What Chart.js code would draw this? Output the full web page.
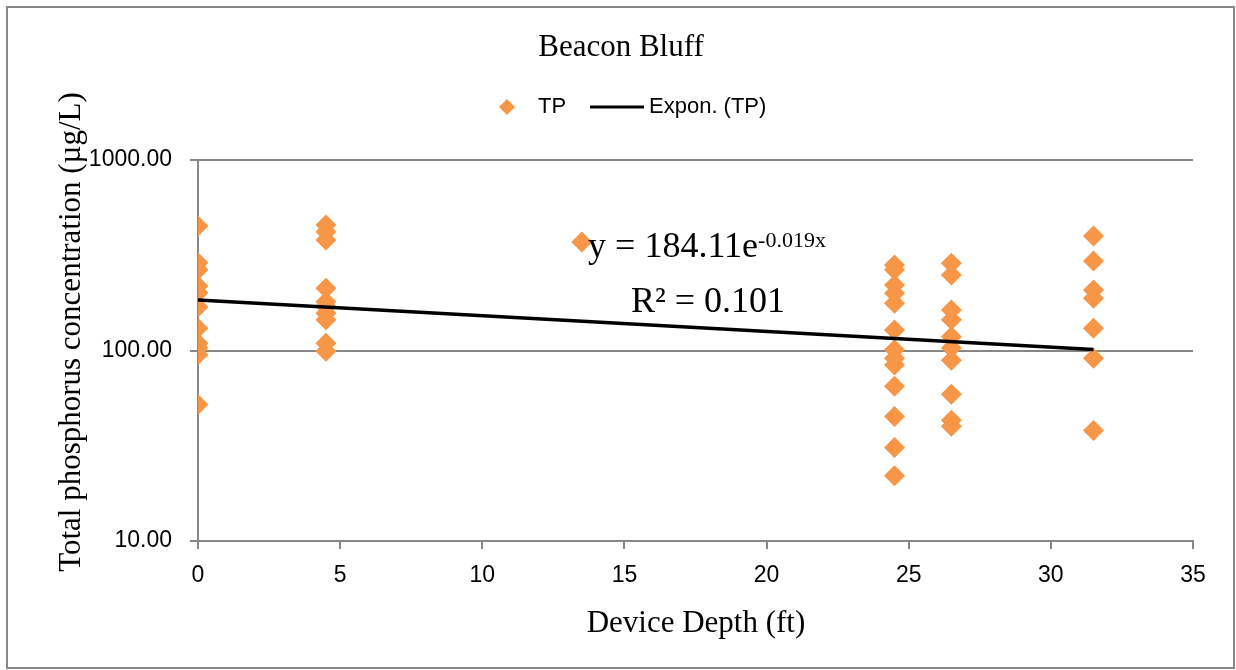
<!DOCTYPE html>
<html>
<head>
<meta charset="utf-8">
<script src="https://cdn.jsdelivr.net/npm/chart.js@4/dist/chart.umd.min.js"></script>
<style>
    html, body { margin: 0; padding: 0; background: #fff; }
    canvas { display: block; }
</style>
</head>
<body>
<canvas id="tpChart" width="1236" height="670"></canvas>
<script>
// Beacon Bluff - TP vs device depth

const chartTitle = 'Beacon Bluff';
const xTitle = 'Device Depth (ft)';
const yTitle = 'Total phosphorus concentration (\u00b5g/L)';

const depths = [0, 4.5, 13.5, 24.5, 26.5, 31.5];
const tpAt0 = [450, 289, 265, 218, 201, 169, 131, 109, 103, 95, 52];
const tpAt4_5 = [456, 420, 380, 212, 180, 170, 157, 145, 109, 99];
const tpAt13_5 = [371];
const tpAt24_5 = [281, 265, 221, 200, 177, 128, 101, 91, 84, 65, 45, 31, 22];
const tpAt26_5 = [287, 249, 163, 145, 118, 103, 89, 59, 43, 40];
const tpAt31_5 = [399, 295, 208, 188, 131, 91, 38];

// trendline end points (Excel exponential fit)
const trendX = [0, 31.5];
const trendY = [184.11, 101.2];
const trendEq = { main: 'y = 184.11e', sup: '-0.019x', r2: 'R\u00b2 = 0.101' };

const xTicks = [0, 5, 10, 15, 20, 25, 30, 35];
const yTicks = [10, 100, 1000];

const ORANGE = '#F79646';
const GRID = '#878787';
const SERIF = '"Liberation Serif", "Times New Roman", serif';
const SANS = '"Liberation Sans", Arial, sans-serif';

const tpGroups = [tpAt0, tpAt4_5, tpAt13_5, tpAt24_5, tpAt26_5, tpAt31_5];
const tpPoints = [];
tpGroups.forEach((vals, i) => {
    vals.forEach(v => tpPoints.push({ x: depths[i], y: v }));
});
const trendPoints = trendX.map((x, i) => ({ x: x, y: trendY[i] }));

// titles, legend, equation and frame
const decorPlugin = {
    id: 'decor',
    afterDraw(chart) {
        const ctx = chart.ctx;
        ctx.save();

        // outer frame
        ctx.strokeStyle = GRID;
        ctx.lineWidth = 2;
        ctx.strokeRect(7, 7, 1227, 661);

        ctx.fillStyle = '#000';
        ctx.textBaseline = 'alphabetic';

        // title
        ctx.font = '31px ' + SERIF;
        ctx.textAlign = 'center';
        ctx.fillText(chartTitle, 621, 56);

        // x title
        ctx.fillText(xTitle, 696, 632);

        // y title
        ctx.save();
        ctx.translate(80, 332);
        ctx.rotate(-Math.PI / 2);
        ctx.fillText(yTitle, 0, 0);
        ctx.restore();

        // legend
        const ds = chart.data.datasets;
        ctx.fillStyle = ORANGE;
        ctx.beginPath();
        ctx.moveTo(507, 99);
        ctx.lineTo(515, 107);
        ctx.lineTo(507, 115);
        ctx.lineTo(499, 107);
        ctx.closePath();
        ctx.fill();

        ctx.fillStyle = '#000';
        ctx.font = '22px ' + SANS;
        ctx.textAlign = 'left';
        ctx.textBaseline = 'middle';
        ctx.fillText(ds[0].label, 538, 107);

        ctx.strokeStyle = '#000';
        ctx.lineWidth = 3;
        ctx.beginPath();
        ctx.moveTo(590, 107);
        ctx.lineTo(644, 107);
        ctx.stroke();
        ctx.fillText(ds[1].label, 649, 107);

        // trendline equation
        ctx.textBaseline = 'alphabetic';
        ctx.font = '36px ' + SERIF;
        const wMain = ctx.measureText(trendEq.main).width;
        ctx.font = '22px ' + SERIF;
        const wSup = ctx.measureText(trendEq.sup).width;
        const startX = 707 - (wMain + wSup) / 2;
        ctx.font = '36px ' + SERIF;
        ctx.fillText(trendEq.main, startX, 257);
        ctx.font = '22px ' + SERIF;
        ctx.fillText(trendEq.sup, startX + wMain, 247);
        ctx.font = '36px ' + SERIF;
        ctx.textAlign = 'center';
        ctx.fillText(trendEq.r2, 708, 312);

        ctx.restore();
    }
};

const ctx = document.getElementById('tpChart').getContext('2d');

new Chart(ctx, {
    type: 'scatter',
    data: {
        datasets: [
            {
                label: 'TP',
                data: tpPoints,
                pointStyle: 'rectRot',
                pointRadius: 10.5,
                pointHoverRadius: 10.5,
                backgroundColor: ORANGE,
                borderColor: ORANGE,
                borderWidth: 0,
                order: 2
            },
            {
                label: 'Expon. (TP)',
                type: 'line',
                data: trendPoints,
                borderColor: '#000',
                borderWidth: 3.5,
                pointRadius: 0,
                fill: false,
                tension: 0,
                order: 1
            }
        ]
    },
    options: {
        responsive: false,
        animation: false,
        devicePixelRatio: 1,
        layout: {
            padding: { top: 160, right: 43, left: 0, bottom: 0 }
        },
        plugins: {
            legend: { display: false },
            title: { display: false },
            tooltip: { enabled: false }
        },
        scales: {
            x: {
                type: 'linear',
                min: 0,
                max: 35,
                afterFit: (scale) => { scale.height = 129; },
                afterBuildTicks: (scale) => {
                    scale.ticks = xTicks.map(v => ({ value: v }));
                },
                ticks: {
                    color: '#000',
                    padding: 13,
                    maxRotation: 0,
                    font: { family: SANS, size: 23 }
                },
                grid: {
                    drawOnChartArea: false,
                    drawTicks: true,
                    tickLength: 8,
                    color: GRID,
                    lineWidth: 2
                },
                border: { color: GRID, width: 2 }
            },
            y: {
                type: 'logarithmic',
                min: 10,
                max: 1000,
                afterFit: (scale) => { scale.width = 198; },
                afterBuildTicks: (scale) => {
                    scale.ticks = yTicks.map(v => ({ value: v }));
                },
                ticks: {
                    color: '#000',
                    padding: 18,
                    font: { family: SANS, size: 23 },
                    callback: (value) => Number(value).toFixed(2)
                },
                grid: {
                    drawTicks: true,
                    tickLength: 8,
                    color: GRID,
                    lineWidth: 2
                },
                border: { color: GRID, width: 2 }
            }
        }
    },
    plugins: [decorPlugin]
});
</script>
</body>
</html>
